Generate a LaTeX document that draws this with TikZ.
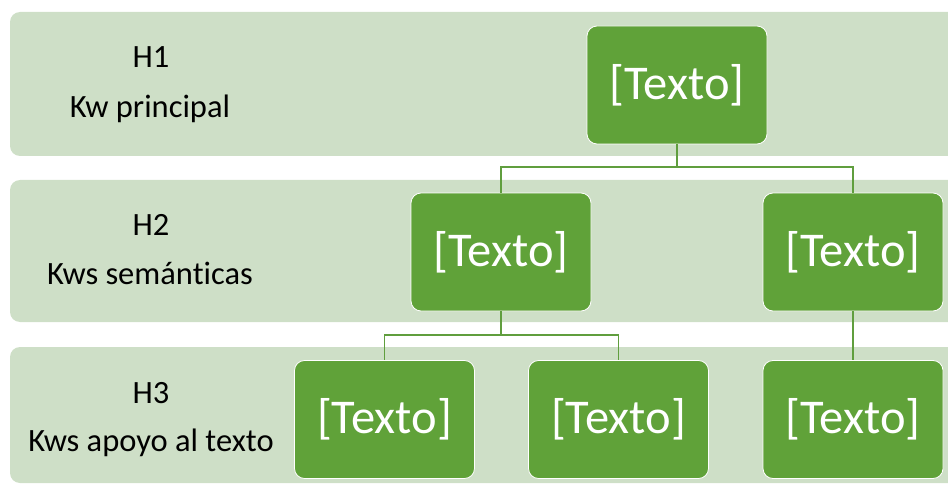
\documentclass[tikz,border=0pt]{standalone}
\usepackage{fontspec}
\setmainfont{Carlito}[Ligatures=NoCommon]
\definecolor{bandgreen}{RGB}{206,223,199}
\definecolor{boxgreen}{RGB}{96,162,57}
\definecolor{linegreen}{RGB}{96,158,62}
\tikzset{
  band/.style={fill=bandgreen, draw=none, rounded corners=10pt},
  tbox/.style={rectangle, rounded corners=10pt, fill=boxgreen, draw=white, line width=0.8pt,
    minimum width=180pt, minimum height=118pt, inner sep=0pt, text=white,
    font=\fontsize{48.5}{50}\selectfont},
  lbl/.style={anchor=base, font=\fontsize{32.5}{34}\selectfont, text=black, inner sep=0pt},
  conn/.style={draw=linegreen, line width=1.4pt}
}
\begin{document}
\begin{tikzpicture}[x=1pt,y=-1pt]
\useasboundingbox (0,0) rectangle (948,484);
\clip (0,0) rectangle (948,484);
% bands
\fill[band] (10,12) rectangle (980,156);
\fill[band] (10,180) rectangle (980,322);
\fill[band] (10,347) rectangle (980,483);
% labels
\node[lbl] (h1) at (151,68) {H1};
\node[lbl] (k1) at (150,118) {Kw principal};
\node[lbl] (h2) at (151,235) {H2};
\node[lbl] (k2) at (150,284) {Kws semánticas};
\node[lbl] (h3) at (151,403) {H3};
\node[lbl] (k3) at (151,451) {Kws apoyo al texto};
% boxes
\node[tbox] (top) at (677,85) {[Texto]};
\node[tbox] (l2a) at (501,252) {[Texto]};
\node[tbox] (l2b) at (853,252) {[Texto]};
\node[tbox] (l3a) at (384.5,419.5) {[Texto]};
\node[tbox] (l3b) at (618.5,419.5) {[Texto]};
\node[tbox] (l3c) at (853,419.5) {[Texto]};
% connectors
\coordinate (j1) at (677,167);
\coordinate (j2) at (501,335);
\draw[conn] (top.south) -- (j1) -| (l2a.north);
\draw[conn] (j1) -| (l2b.north);
\draw[conn] (l2a.south) -- (j2) -| (l3a.north);
\draw[conn] (j2) -| (l3b.north);
\draw[conn] (l2b.south) -- (l3c.north);
\end{tikzpicture}
\end{document}
